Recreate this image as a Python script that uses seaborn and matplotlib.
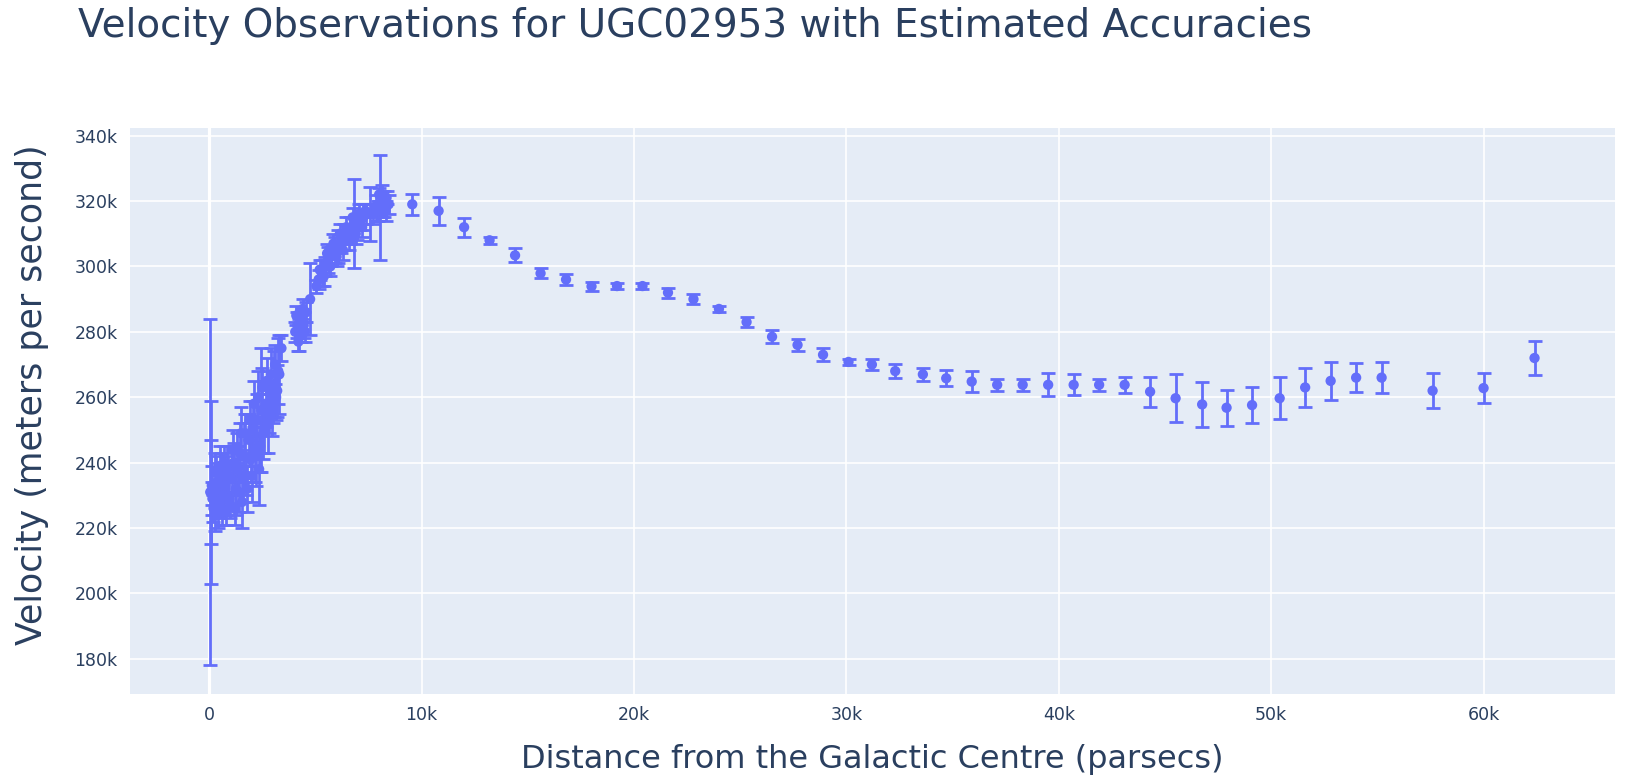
import matplotlib
matplotlib.use('Agg')
import matplotlib.pyplot as plt
from matplotlib.ticker import FuncFormatter, MultipleLocator
import seaborn as sns
import pandas as pd

# Rotation curve of UGC02953
# distance in kpc, velocity and error in km/s (converted to pc and m/s below)
distance_kpc = [
    0.05, 0.08, 0.10, 0.12, 0.15, 0.25, 0.35, 0.45, 0.55, 0.65,
    0.75, 0.85, 0.95, 1.05, 1.15, 1.25, 1.35, 1.45, 1.55, 1.65,
    1.75, 1.85, 1.95, 2.05, 2.15, 2.25, 2.35, 2.45, 2.55, 2.65,
    2.75, 2.85, 2.95, 3.05, 3.15, 3.25, 3.30, 3.40,
    4.05, 4.15, 4.25, 4.35, 4.45, 4.55, 4.75,
    5.15, 5.30, 5.45, 5.60, 5.75, 5.90, 6.05, 6.20, 6.35, 6.50,
    6.65, 6.80, 6.95, 7.10, 7.25, 7.40, 7.55,
    7.85, 7.95, 8.05, 8.15, 8.25, 8.35, 8.45,
    9.56, 10.8, 12.0, 13.2, 14.4, 15.6, 16.8, 18.0, 19.2, 20.4,
    21.6, 22.8, 24.0, 25.3, 26.5, 27.7, 28.9, 30.1, 31.2, 32.3,
    33.6, 34.7, 35.9, 37.1, 38.3, 39.5, 40.7, 41.9, 43.1, 44.3,
    45.5, 46.75, 47.9, 49.1, 50.4, 51.6, 52.8, 54.0, 55.2, 57.6,
    60.0, 62.4,
]
velocity_kms = [
    231, 231, 231, 233, 229, 231, 234, 228, 236, 230,
    233, 238, 229, 235, 240, 232, 238, 243, 228, 242,
    236, 247, 241, 250, 244, 253, 238, 256, 249, 258,
    252, 262, 256, 264, 260, 268, 267, 275,
    280, 282, 279, 284, 282, 286, 290,
    296, 298, 300, 302, 303, 305, 306, 307, 309, 310,
    311, 313, 312, 314, 315, 316, 316,
    318, 317, 318, 320, 319, 321, 319,
    319, 317, 312, 308, 303.4, 297.9, 296, 293.9, 294, 294,
    292, 290, 287, 283, 278.5, 276, 273, 270.8, 270, 268,
    267, 265.8, 264.8, 263.8, 263.8, 263.8, 263.8, 263.8, 263.8, 261.7,
    259.7, 257.8, 256.8, 257.6, 259.7, 263, 265, 266, 266, 262,
    262.8, 272,
]
error_kms = [
    53, 28, 16, 6, 5, 12, 6, 5, 7, 6,
    5, 7, 5, 8, 6, 8, 7, 9, 8, 10,
    6, 8, 7, 9, 10, 8, 11, 19, 8, 7,
    9, 6, 8, 10, 7, 10, 12, 4,
    3, 4, 5, 3, 4, 3, 11,
    3, 4, 3, 4, 3, 4, 5, 3, 4, 3,
    4, 13.6, 4, 3, 4, 3, 8.3,
    4, 3, 16, 5, 4, 2, 3,
    3.3, 4.2, 2.9, 1, 2.1, 1.5, 1.7, 1.4, 0.8, 0.8,
    1.5, 1.5, 1, 1.5, 2, 1.8, 2, 1, 1.8, 2.1,
    2, 2.5, 3.2, 1.8, 1.8, 3.5, 3.2, 1.8, 2.5, 4.6,
    7.3, 7, 5.5, 5.5, 6.5, 5.9, 5.7, 4.5, 4.7, 5.3,
    4.7, 5.1,
]

# second, interleaved set of inner observations (the dense blob below 9 kpc)
inner_distance_kpc = [
    0.20, 0.30, 0.40, 0.50, 0.60, 0.70, 0.80, 0.90, 1.00, 1.10,
    1.20, 1.30, 1.40, 1.50, 1.60, 1.70, 1.80, 1.90, 2.00, 2.10,
    2.20, 2.30, 2.40, 2.50, 2.60, 2.70, 2.80, 2.90, 3.00, 3.10,
    3.20, 4.10, 4.20, 4.30, 4.40, 4.50,
    5.05, 5.20, 5.40, 5.55, 5.70, 5.85, 6.00, 6.15, 6.30, 6.45,
    6.60, 6.75, 6.90, 7.05, 7.20, 7.35, 7.70, 8.00, 8.30,
]
inner_velocity_kms = [
    226, 237, 224, 239, 226, 240, 225, 236, 227, 244,
    226, 244, 231, 249, 235, 249, 232, 253, 236, 258,
    242, 260, 245, 263, 250, 265, 255, 267, 258, 270,
    262, 285, 277, 281, 287, 280,
    294, 299, 297, 304, 300, 307, 303, 310, 305, 312,
    308, 315, 310, 316, 312, 317, 316, 322, 317,
]
inner_error_kms = [
    4, 5, 4, 6, 5, 5, 4, 6, 4, 6,
    5, 5, 6, 8, 7, 6, 7, 6, 8, 7,
    9, 8, 8, 6, 7, 7, 6, 8, 6, 6,
    8, 3, 3, 4, 3, 3,
    2, 3, 3, 3, 3, 3, 3, 3, 3, 3,
    3, 3, 3, 3, 3, 2, 3, 2, 3,
]

df = pd.DataFrame({
    'distance': [d * 1000 for d in distance_kpc + inner_distance_kpc],
    'velocity': [v * 1000 for v in velocity_kms + inner_velocity_kms],
    'error': [e * 1000 for e in error_kms + inner_error_kms],
})

sns.set_theme(style='darkgrid', rc={
    'axes.facecolor': '#E5ECF6',
    'grid.color': 'white',
    'grid.linewidth': 1.2,
    'axes.edgecolor': '#E5ECF6',
})
plt.rcParams['font.family'] = ['DejaVu Sans']

text_color = '#2a3f5f'
point_color = '#636efa'

fig = plt.figure(figsize=(16.25, 7.84), dpi=100)
ax = fig.add_axes([0.080, 0.115, 0.914, 0.722])

ax.errorbar(df['distance'], df['velocity'], yerr=df['error'], fmt='none',
            ecolor=point_color, elinewidth=2, capsize=5.2, capthick=2, zorder=3)
sns.scatterplot(data=df, x='distance', y='velocity', ax=ax, color=point_color,
                s=55, edgecolor='none', linewidth=0, zorder=4)

ax.set_xlim(-3730, 66200)
ax.set_ylim(169300, 342400)
ax.xaxis.set_major_locator(MultipleLocator(10000))
ax.yaxis.set_major_locator(MultipleLocator(20000))
k_fmt = FuncFormatter(lambda v, pos: '0' if v == 0 else f'{int(round(v / 1000))}k')
ax.xaxis.set_major_formatter(k_fmt)
ax.yaxis.set_major_formatter(k_fmt)
ax.axvline(0, color='white', linewidth=2.3, zorder=1)

ax.tick_params(axis='both', length=0, labelsize=12.5, colors=text_color)
ax.tick_params(axis='x', pad=9)
ax.tick_params(axis='y', pad=9)
for s in ax.spines.values():
    s.set_visible(False)

ax.set_xlabel('')
ax.set_ylabel('')
fig.text(0.537, 0.031, 'Distance from the Galactic Centre (parsecs)',
         ha='center', va='center', fontsize=23, color=text_color)
fig.text(0.020, 0.497, 'Velocity (meters per second)', rotation=90,
         ha='center', va='center', fontsize=25, color=text_color)
fig.text(0.048, 0.967, 'Velocity Observations for UGC02953 with Estimated Accuracies',
         ha='left', va='center', fontsize=28, color=text_color)

fig.savefig('out.png', dpi=100)
